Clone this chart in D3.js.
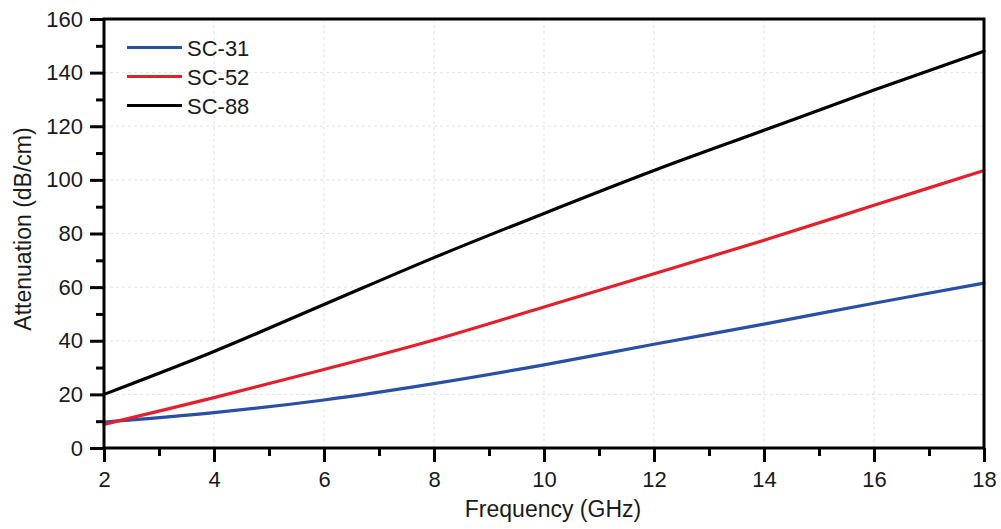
<!DOCTYPE html>
<html>
<head>
<meta charset="utf-8">
<script src="https://cdn.jsdelivr.net/npm/d3@7"></script>
<style>
  html, body { margin: 0; padding: 0; background: #fff; }
  svg { display: block; font-family: "Liberation Sans", Arial, sans-serif; }
</style>
</head>
<body>
<svg id="chart" width="1001" height="529"></svg>
<script>
// Frequency sweep (GHz) and attenuation (dB/cm) for each sample
const frequency = [2, 4, 6, 8, 10, 12, 14, 16, 18];
const sc31 = [9.7, 13.2, 17.9, 24.0, 31.0, 38.7, 46.2, 54.0, 61.5];
const sc52 = [8.8, 18.8, 29.3, 40.3, 52.6, 65.0, 77.5, 90.5, 103.5];
const sc88 = [20.0, 36.0, 53.5, 71.0, 87.5, 103.5, 118.5, 133.5, 148.0];
const seriesNames = ["SC-31", "SC-52", "SC-88"];
const seriesColors = ["#2a4fa6", "#e3202b", "#000000"];
const xTicks = [2, 4, 6, 8, 10, 12, 14, 16, 18];
const yTicks = [0, 20, 40, 60, 80, 100, 120, 140, 160];

const series = [sc31, sc52, sc88];

const svg = d3.select("#chart");
const plotLeft = 104, plotRight = 984, plotTop = 19, plotBottom = 448;

const x = d3.scaleLinear().domain([2, 18]).range([plotLeft, plotRight]);
const y = d3.scaleLinear().domain([0, 160]).range([plotBottom, plotTop]);

// faint dashed grid at the major ticks
const grid = svg.append("g").attr("stroke", "#e3e3e3").attr("stroke-width", 1).attr("stroke-dasharray", "3,3");
grid.selectAll("line.v").data(xTicks.slice(1, -1)).join("line").attr("class", "v")
  .attr("x1", d => x(d)).attr("x2", d => x(d)).attr("y1", plotTop).attr("y2", plotBottom);
grid.selectAll("line.h").data(yTicks.slice(1, -1)).join("line").attr("class", "h")
  .attr("x1", plotLeft).attr("x2", plotRight).attr("y1", d => y(d)).attr("y2", d => y(d));

// curves
const line = d3.line().curve(d3.curveCatmullRom.alpha(0.5));
series.forEach((vals, i) => {
  svg.append("path")
    .attr("d", line(frequency.map((f, j) => [x(f), y(vals[j])])))
    .attr("fill", "none")
    .attr("stroke", seriesColors[i])
    .attr("stroke-width", 3.2)
    .attr("stroke-linecap", "round");
});

// frame
svg.append("rect")
  .attr("x", plotLeft).attr("y", plotTop)
  .attr("width", plotRight - plotLeft).attr("height", plotBottom - plotTop)
  .attr("fill", "none").attr("stroke", "#000").attr("stroke-width", 3);

// minor ticks
const xMinor = d3.range(3, 18, 2);
const yMinor = d3.range(10, 160, 20);
const xAxisMinor = d3.axisBottom(x).tickValues(xMinor).tickSize(8).tickFormat("");
const yAxisMinor = d3.axisLeft(y).tickValues(yMinor).tickSize(8).tickFormat("");

const xAxis = d3.axisBottom(x).tickValues(xTicks).tickSize(14).tickPadding(9).tickFormat(d3.format("d"));
const yAxis = d3.axisLeft(y).tickValues(yTicks).tickSize(14).tickPadding(7).tickFormat(d3.format("d"));

function styleAxis(g) {
  g.select(".domain").remove();
  g.selectAll(".tick line").attr("stroke", "#000").attr("stroke-width", 3);
  g.selectAll(".tick text").attr("fill", "#1a1a1a").style("font-size", "22px")
    .style("font-family", "'Liberation Sans', Arial, sans-serif");
}

svg.append("g").attr("transform", `translate(0,${plotBottom})`).call(xAxisMinor).call(styleAxis);
svg.append("g").attr("transform", `translate(${plotLeft},0)`).call(yAxisMinor).call(styleAxis);
svg.append("g").attr("transform", `translate(0,${plotBottom})`).call(xAxis).call(styleAxis);
svg.append("g").attr("transform", `translate(${plotLeft},0)`).call(yAxis).call(styleAxis);

// axis titles
svg.append("text")
  .attr("x", 553).attr("y", 517)
  .attr("text-anchor", "middle")
  .attr("fill", "#1a1a1a")
  .style("font-size", "23px")
  .text("Frequency (GHz)");

svg.append("text")
  .attr("transform", "translate(31,229) rotate(-90)")
  .attr("text-anchor", "middle")
  .attr("fill", "#1a1a1a")
  .style("font-size", "23px")
  .text("Attenuation (dB/cm)");

// legend
const legend = svg.append("g");
seriesNames.forEach((name, i) => {
  const ly = 47.5 + i * 29;
  legend.append("line")
    .attr("x1", 127).attr("x2", 182).attr("y1", ly).attr("y2", ly)
    .attr("stroke", seriesColors[i]).attr("stroke-width", 3.2);
  legend.append("text")
    .attr("x", 187).attr("y", ly + 8)
    .attr("fill", "#1a1a1a")
    .style("font-size", "22px")
    .text(name);
});
</script>
</body>
</html>
